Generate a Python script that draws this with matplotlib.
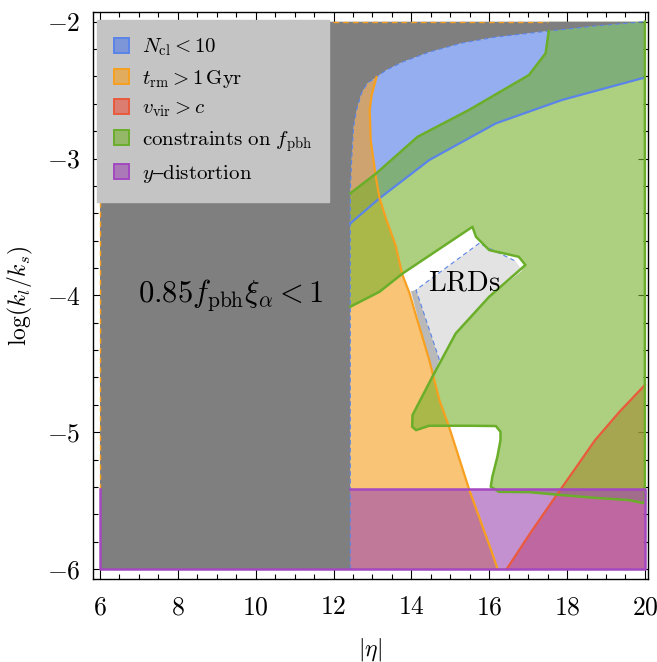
import numpy as np
import matplotlib
matplotlib.use('Agg')
import matplotlib.pyplot as plt
from matplotlib.patches import Polygon, Patch

plt.rcParams['mathtext.fontset'] = 'cm'
plt.rcParams['font.family'] = ['cmr10', 'DejaVu Serif']
plt.rcParams['axes.unicode_minus'] = False

# ---- region boundaries, (|eta|, log(k_l/k_s)) ----
# edge of the allowed region (gray region lies above / left of it)
edge_x = [12.43, 12.43, 12.465, 12.516, 12.592, 12.72, 12.875, 13.105, 13.36, 13.77, 14.46, 15.30, 16.17, 17.53, 18.73, 20.0]
edge_y = [-6.0, -3.254, -3.011, -2.770, -2.645, -2.521, -2.448, -2.404, -2.353, -2.295, -2.222, -2.156, -2.112, -2.068, -2.031, -2.0]

# N_cl = 10 line
ncl_x = [12.43, 13.18, 14.46, 16.17, 17.87, 19.92, 20.0]
ncl_y = [-3.474, -3.291, -3.011, -2.743, -2.572, -2.414, -2.41]

# t_rm = 1 Gyr line
trm_x = [13.105, 12.98, 12.93, 12.955, 13.08, 13.18, 13.36, 13.59, 13.77, 13.95, 14.13, 14.46, 14.72, 14.97, 15.49, 16.05, 16.215]
trm_y = [-2.404, -2.536, -2.645, -2.864, -3.120, -3.288, -3.449, -3.630, -3.850, -3.982, -4.158, -4.473, -4.765, -4.962, -5.423, -5.862, -6.0]

# v_vir = c line
vvir_x = [16.45, 17.05, 17.70, 18.22, 18.72, 19.35, 20.0]
vvir_y = [-6.0, -5.74, -5.472, -5.262, -5.058, -4.85, -4.655]

# f_pbh constraint contour (open at the left edge)
fpbh_x = [12.43, 13.10, 14.16, 15.48, 17.02, 17.45, 17.53, 17.53, 20.0, 20.0,
          19.58, 18.81, 17.87, 17.02, 16.25, 16.04, 16.08, 16.21, 16.29, 16.29,
          16.17, 15.48, 14.46, 14.12, 14.02, 14.03, 14.54, 15.14, 16.0, 16.93,
          16.76, 16.0, 15.66, 15.57, 13.78, 13.18, 12.43]
fpbh_y = [-3.254, -3.108, -2.841, -2.645, -2.390, -2.231, -2.068, -2.0, -2.0, -5.52,
          -5.496, -5.482, -5.460, -5.438, -5.436, -5.399, -5.326, -5.180, -5.058, -4.997,
          -4.955, -4.953, -4.953, -4.985, -4.960, -4.875, -4.595, -4.278, -4.010, -3.778,
          -3.718, -3.669, -3.572, -3.499, -3.839, -3.974, -4.083]

# y-distortion band
ydist_lo, ydist_hi = -6.0, -5.416

# LRD window
lrd_x = [14.12, 15.74, 16.68, 16.85, 16.0, 15.14, 14.67, 14.55, 14.72]
lrd_y = [-3.96, -3.62, -3.75, -3.82, -4.01, -4.278, -4.52, -4.57, -4.47]
lrd_strip_x = [13.99, 14.12, 14.72, 14.55]
lrd_strip_y = [-3.97, -3.96, -4.47, -4.595]

x_min, x_max = 6.0, 20.0
y_min, y_max = -6.0, -2.0

c_blue, c_orange, c_red = '#4e78e6', '#f59d1b', '#eb503a'
c_green, c_purple = '#75b12b', '#9d48b1'
ln_blue, ln_orange, ln_red = '#5a84e8', '#f7a020', '#ea5a3c'
ln_green, ln_purple = '#6aae2a', '#a348c0'
a = 0.6

fig = plt.figure(figsize=(6.57, 6.62), dpi=100)
ax = fig.add_axes([93/657, 1-579/662, 555/657, 567/662])

# translucent regions
blue_poly = list(zip(ncl_x, ncl_y)) + [(20.0, -2.0)] + list(zip(edge_x[::-1], edge_y[::-1]))[:-1]
ax.add_patch(Polygon(blue_poly, closed=True, fc=c_blue, alpha=a, ec='none', zorder=1))

i_top = edge_x.index(trm_x[0])
orange_poly = list(zip(edge_x[:i_top], edge_y[:i_top])) + list(zip(trm_x, trm_y))
ax.add_patch(Polygon(orange_poly, closed=True, fc=c_orange, alpha=a, ec='none', zorder=2))

red_poly = list(zip(vvir_x, vvir_y)) + [(20.0, -6.0)]
ax.add_patch(Polygon(red_poly, closed=True, fc=c_red, alpha=a, ec='none', zorder=3))

ax.add_patch(Polygon(list(zip(fpbh_x, fpbh_y)), closed=True, fc=c_green, alpha=a, ec='none', zorder=4))

ax.fill_between([edge_x[0], x_max], ydist_lo, ydist_hi, color=c_purple, alpha=a, lw=0, zorder=5)

# excluded region 0.85 f_pbh xi_alpha < 1
gray_poly = [(x_min, y_min), (x_min, y_max)] + list(zip(edge_x[::-1], edge_y[::-1]))
ax.add_patch(Polygon(gray_poly, closed=True, fc='#7f7f7f', ec='none', zorder=6))
ax.plot(edge_x, edge_y, color=ln_blue, lw=0.8, ls=(0, (4, 3)), zorder=6.5)
ax.plot([x_min, x_min, 17.5], [ydist_hi, y_max, y_max], color=ln_orange, lw=1.0, ls=(0, (4, 3)), zorder=6.5)

# LRDs
ax.add_patch(Polygon(list(zip(lrd_x, lrd_y)), closed=True, fc='#e3e3e3', ec='none', zorder=7))
ax.add_patch(Polygon(list(zip(lrd_strip_x, lrd_strip_y)), closed=True, fc='#b9b9b9', ec='none', zorder=7))
ax.plot([lrd_x[-1], lrd_x[0], lrd_x[1], lrd_x[2]], [lrd_y[-1], lrd_y[0], lrd_y[1], lrd_y[2]],
        color=ln_blue, lw=0.8, ls=(0, (4, 3)), zorder=7.5)

# boundary lines
ax.plot(ncl_x, ncl_y, color=ln_blue, lw=1.6, zorder=8)
ax.plot(trm_x, trm_y, color=ln_orange, lw=1.6, zorder=8)
ax.plot(vvir_x, vvir_y, color=ln_red, lw=1.6, zorder=8)
ax.plot(fpbh_x[:7], fpbh_y[:7], color=ln_green, lw=1.8, zorder=8)
ax.plot(fpbh_x[8:], fpbh_y[8:], color=ln_green, lw=1.8, zorder=8)
# y-distortion outline: top edge hidden behind the gray region
ax.plot([edge_x[0], x_max, x_max, x_min, x_min],
        [ydist_hi, ydist_hi, ydist_lo, ydist_lo, ydist_hi],
        color=ln_purple, lw=1.8, zorder=8.5)

ax.text(9.35, -4.0, r'$0.85 f_{\rm pbh}\xi_\alpha < 1$', fontsize=22, ha='center', va='center', zorder=9)
ax.text(15.36, -3.91, r'$\rm LRDs$', fontsize=20.5, ha='center', va='center', zorder=9)

# legend
labels = [r'$N_{\rm cl} < 10$', r'$t_{\rm rm} > 1\,{\rm Gyr}$', r'$v_{\rm vir} > c$',
          r'$\rm constraints\ on\ $$f_{\rm pbh}$', r'$y\mathrm{–distortion}$']
fills = [c_blue, c_orange, c_red, c_green, c_purple]
edges = [ln_blue, ln_orange, ln_red, ln_green, ln_purple]
handles = [Patch(facecolor=matplotlib.colors.to_rgba(f, a), edgecolor=e, lw=1.4) for f, e in zip(fills, edges)]
leg = ax.legend(handles, labels, loc='upper left', bbox_to_anchor=(97/657, 1-20/662),
                bbox_transform=fig.transFigure, fontsize=15, frameon=True, fancybox=False,
                facecolor='#c4c4c4', edgecolor='#c4c4c4', framealpha=1,
                handlelength=0.75, handleheight=0.75, handletextpad=0.6,
                labelspacing=0.45, borderpad=0.8, borderaxespad=0)
leg.set_zorder(20)

ax.set_xlim(5.82, 20.08)
ax.set_ylim(-6.073, -1.929)
xt = np.arange(6, 21, 2)
yt = np.arange(-6, -1, 1)
ax.set_xticks(xt, [rf'${v}$' for v in xt])
ax.set_yticks(yt, [rf'${v}$' for v in yt])
ax.set_xticks(np.arange(6, 20.01, 0.5), minor=True)
ax.set_yticks(np.arange(-6, -1.99, 0.2), minor=True)
ax.tick_params(which='both', direction='in', top=True, right=True, width=0.8, labelsize=18.5)
ax.tick_params(axis='x', which='major', pad=12)
ax.tick_params(axis='y', which='major', pad=9)
ax.tick_params(which='major', length=7)
ax.tick_params(which='minor', length=3.5)
for s in ax.spines.values():
    s.set_linewidth(1.0)

ax.set_xlabel(r'$|\eta|$', fontsize=17, labelpad=12)
ax.set_ylabel(r'$\log(k_l/k_s)$', fontsize=17, labelpad=8)

fig.savefig('out.png', dpi=100)
